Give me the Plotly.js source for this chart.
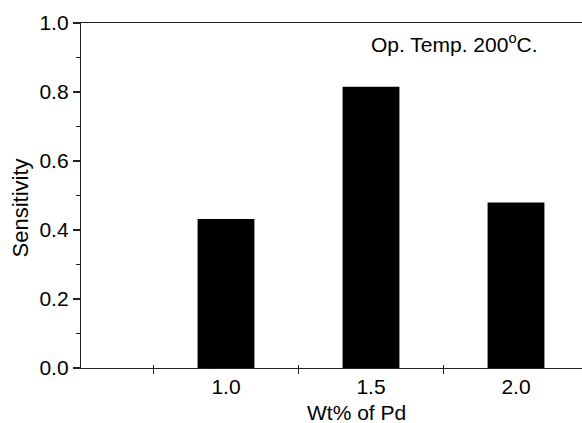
<!DOCTYPE html>
<html>
<head>
<meta charset="utf-8">
<script src="https://cdn.plot.ly/plotly-3.0.1.min.js"></script>
<style>
  html, body { margin: 0; padding: 0; background: #ffffff; overflow: hidden; }
  #chart { width: 582px; height: 423px; }
</style>
</head>
<body>
<div id="chart"></div>
<script>
// Pd loading (wt%) and measured sensitivity
const wtPd = [1.0, 1.5, 2.0];
const sensitivity = [0.432, 0.815, 0.480];

// axis ticks
const xLabelVals = [1.0, 1.5, 2.0];
const xLabelText = ['1.0', '1.5', '2.0'];
const xTickMarks = [0.75, 1.25, 1.75];
const yTickVals = [0, 0.2, 0.4, 0.6, 0.8, 1.0];
const yMinorVals = [0.1, 0.3, 0.5, 0.7, 0.9];

const W = 582, H = 423;
const M = { l: 81, r: 0, t: 23, b: 55 };
const plotW = W - M.l - M.r;
const plotH = H - M.t - M.b;
const pxPerUnit = 290;            // pixels per 1.0 wt%
const xMin = 0.5;
const xMax = xMin + plotW / pxPerUnit;

const font = 'Liberation Sans, Arial, Helvetica, sans-serif';
const axisColor = '#222222';

// pixel position -> paper coordinates for the free-standing labels
const px = v => (v - M.l) / plotW;
const py = v => (M.t + plotH - v) / plotH;

const trace = {
  type: 'bar',
  x: wtPd,
  y: sensitivity,
  width: 0.196,
  marker: { color: '#000000', line: { width: 0 } },
  hoverinfo: 'skip'
};

// secondary axis only carries the short inward half of the x tick marks
const tickOverlay = {
  type: 'scatter',
  x: [],
  y: [],
  xaxis: 'x2',
  yaxis: 'y',
  hoverinfo: 'skip',
  showlegend: false
};

const layout = {
  width: W,
  height: H,
  margin: M,
  paper_bgcolor: '#ffffff',
  plot_bgcolor: '#ffffff',
  showlegend: false,
  font: { family: font, size: 21, color: '#000000' },
  xaxis: {
    range: [xMin, xMax],
    fixedrange: true,
    showgrid: false,
    zeroline: false,
    showline: true,
    mirror: true,
    linecolor: axisColor,
    linewidth: 1.2,
    tickmode: 'array',
    tickvals: xLabelVals,
    ticktext: xLabelText,
    ticks: '',
    ticklabelstandoff: 0,
    tickfont: { family: font, size: 21, color: '#000000' },
    minor: {
      tickmode: 'array',
      tickvals: xTickMarks,
      ticks: 'outside',
      ticklen: 5,
      tickwidth: 1.2,
      tickcolor: axisColor,
      showgrid: false
    }
  },
  xaxis2: {
    overlaying: 'x',
    anchor: 'y',
    side: 'bottom',
    range: [xMin, xMax],
    fixedrange: true,
    showgrid: false,
    zeroline: false,
    showline: false,
    showticklabels: false,
    tickmode: 'array',
    tickvals: xTickMarks,
    ticks: 'inside',
    ticklen: 3,
    tickwidth: 1.2,
    tickcolor: axisColor
  },
  yaxis: {
    range: [0, 1.0],
    fixedrange: true,
    showgrid: false,
    zeroline: false,
    showline: true,
    mirror: false,
    linecolor: axisColor,
    linewidth: 1.2,
    tickmode: 'array',
    tickvals: yTickVals,
    tickformat: '.1f',
    ticks: 'outside',
    ticklen: 7,
    tickwidth: 1.2,
    tickcolor: axisColor,
    tickfont: { family: font, size: 21, color: '#000000' },
    minor: {
      tickmode: 'array',
      tickvals: yMinorVals,
      ticks: 'outside',
      ticklen: 4,
      tickwidth: 1.2,
      tickcolor: axisColor,
      showgrid: false
    }
  },
  annotations: [
    {
      text: 'Sensitivity',
      xref: 'paper', yref: 'paper',
      x: px(20), y: py(208.5),
      xanchor: 'center', yanchor: 'middle',
      textangle: -90,
      showarrow: false,
      font: { family: font, size: 22, color: '#000000' }
    },
    {
      text: 'Wt% of Pd',
      xref: 'paper', yref: 'paper',
      x: px(356), y: py(412),
      xanchor: 'center', yanchor: 'middle',
      showarrow: false,
      font: { family: font, size: 21, color: '#000000' }
    },
    {
      text: 'Op. Temp. 200<sup>o</sup>C.',
      xref: 'paper', yref: 'paper',
      x: px(369), y: py(43),
      xanchor: 'left', yanchor: 'middle',
      showarrow: false,
      font: { family: font, size: 21, color: '#000000' }
    }
  ]
};

Plotly.newPlot('chart', [trace, tickOverlay], layout, { staticPlot: true, displayModeBar: false });
</script>
</body>
</html>
